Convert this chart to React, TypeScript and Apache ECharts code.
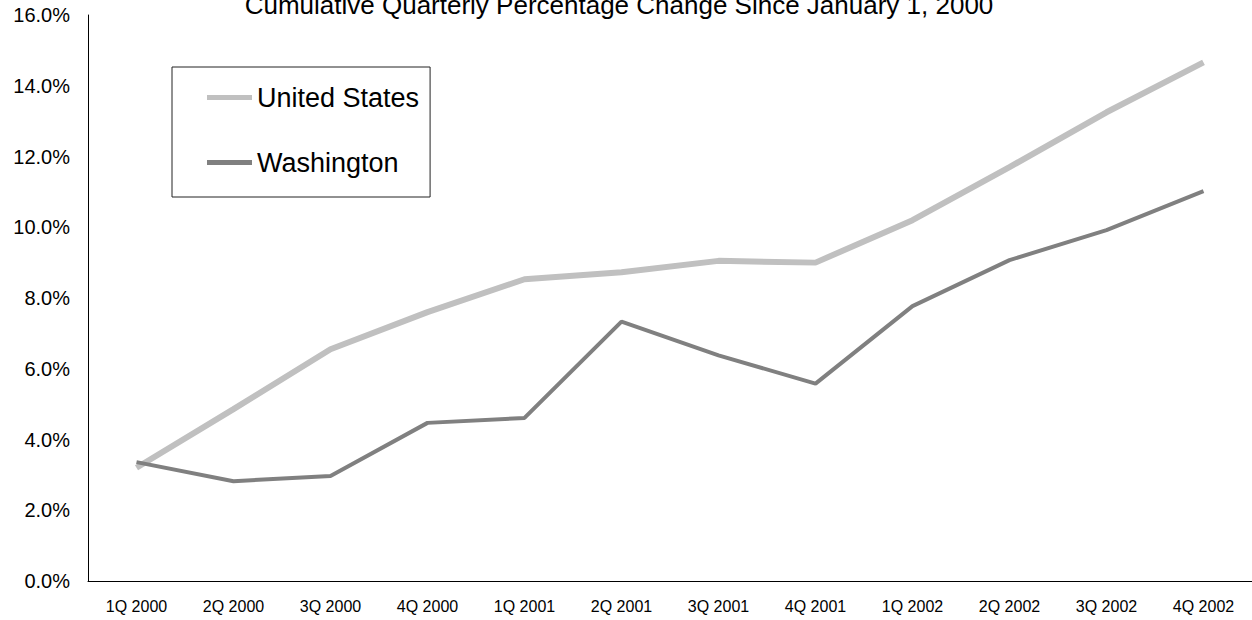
import React, { useEffect, useRef } from "react";
import * as echarts from "echarts";

const quarters = [
  "1Q 2000", "2Q 2000", "3Q 2000", "4Q 2000",
  "1Q 2001", "2Q 2001", "3Q 2001", "4Q 2001",
  "1Q 2002", "2Q 2002", "3Q 2002", "4Q 2002",
];
const unitedStates = [3.2, 4.86, 6.55, 7.6, 8.53, 8.73, 9.05, 9.0, 10.2, 11.7, 13.25, 14.66];
const washington = [3.36, 2.82, 2.97, 4.47, 4.61, 7.33, 6.38, 5.58, 7.77, 9.07, 9.92, 11.02];

const FONT = "'Liberation Sans', Arial, sans-serif";

export default function App() {
  const ref = useRef<HTMLDivElement>(null);

  useEffect(() => {
    if (!ref.current) return;
    const chart = echarts.init(ref.current, null, { renderer: "svg" });
    chart.setOption({
      animation: false,
      backgroundColor: "#fff",
      textStyle: { fontFamily: FONT },
      title: {
        text: "Cumulative Quarterly Percentage Change Since January 1, 2000",
        left: 619,
        textAlign: "center",
        top: -8,
        padding: 0,
        textStyle: { fontSize: 26, fontWeight: "normal", color: "#000", fontFamily: FONT },
      },
      legend: {
        orient: "vertical",
        left: 172,
        top: 67,
        padding: [17, 11, 21, 35],
        itemGap: 38,
        itemWidth: 45,
        itemHeight: 5,
        icon: "rect",
        borderColor: "#222",
        borderWidth: 1,
        textStyle: { fontSize: 27, color: "#000", fontFamily: FONT },
        data: ["United States", "Washington"],
      },
      grid: { left: 88, right: 0, top: 15, bottom: 39 },
      xAxis: {
        type: "category",
        data: quarters,
        boundaryGap: true,
        axisLine: { lineStyle: { color: "#000", width: 1 } },
        axisTick: { show: false },
        axisLabel: { fontSize: 16, color: "#000", margin: 17, interval: 0, fontFamily: FONT },
        splitLine: { show: false },
      },
      yAxis: {
        type: "value",
        min: 0,
        max: 16,
        interval: 2,
        axisLine: { show: true, lineStyle: { color: "#000", width: 1 } },
        axisTick: { show: false },
        splitLine: { show: false },
        axisLabel: {
          fontSize: 20,
          color: "#000",
          margin: 18,
          fontFamily: FONT,
          formatter: (v: number) => v.toFixed(1) + "%",
        },
      },
      series: [
        {
          name: "United States",
          type: "line",
          data: unitedStates,
          showSymbol: false,
          symbol: "none",
          itemStyle: { color: "#c0c0c0" },
          lineStyle: { color: "#c0c0c0", width: 6 },
        },
        {
          name: "Washington",
          type: "line",
          data: washington,
          showSymbol: false,
          symbol: "none",
          itemStyle: { color: "#808080" },
          lineStyle: { color: "#808080", width: 4 },
        },
      ],
    });
    return () => chart.dispose();
  }, []);

  return (
    <div
      ref={ref}
      style={{ position: "fixed", left: 0, top: 0, width: 1252, height: 620 }}
    />
  );
}
